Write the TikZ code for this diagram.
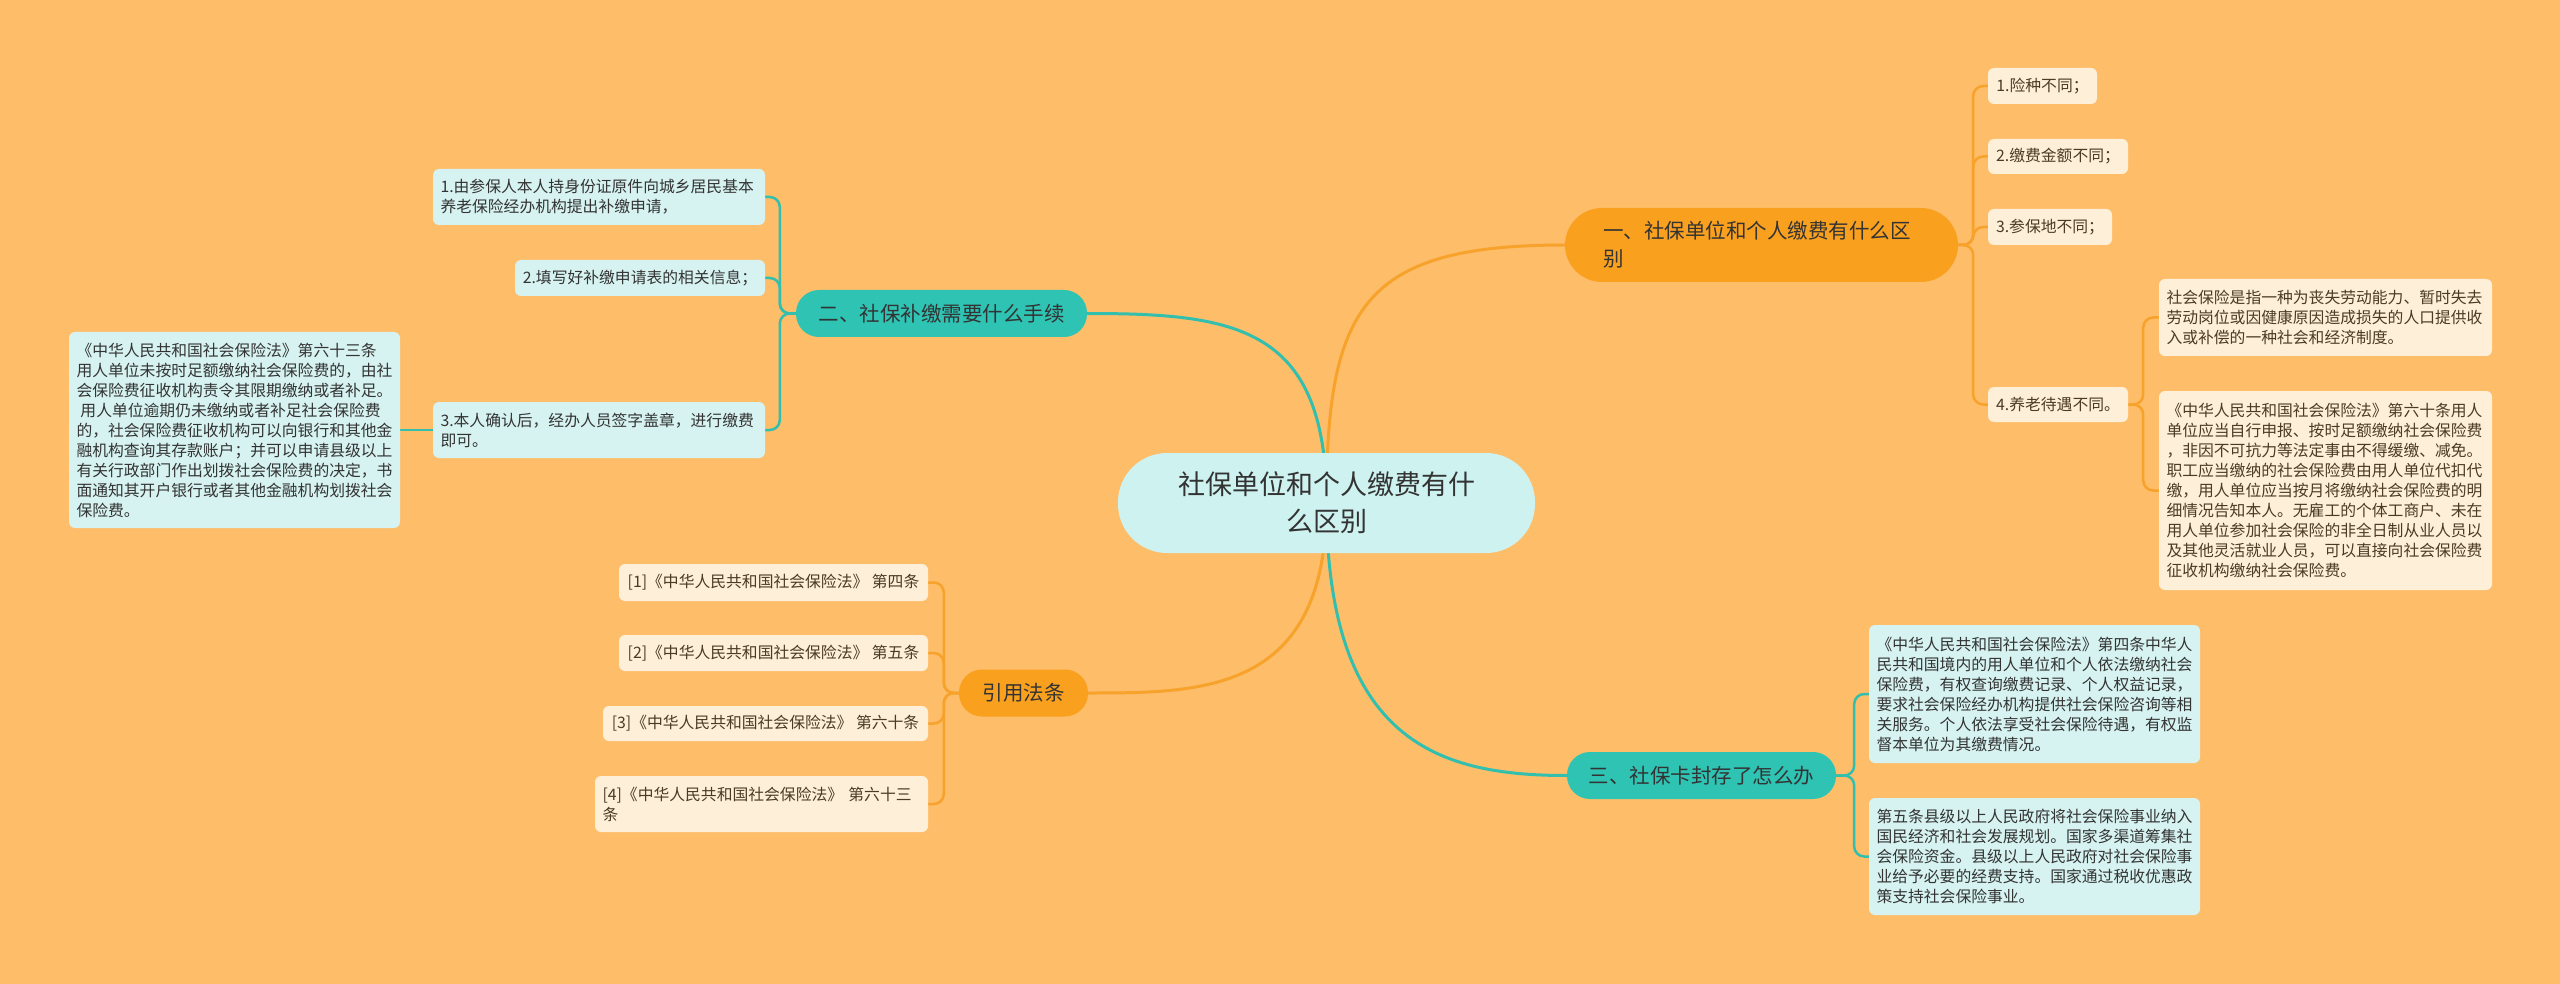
\documentclass[tikz,border=0pt]{standalone}
\usepackage{fontspec}
\newfontfamily\cjk{Noto Sans CJK SC}
\usetikzlibrary{positioning}
\definecolor{bgcol}{HTML}{FEBD69}
\definecolor{rootfill}{HTML}{CDF2EF}
\definecolor{topicorange}{HTML}{F9A11F}
\definecolor{topicteal}{HTML}{2EC3B3}
\definecolor{leafcream}{HTML}{FEEFD9}
\definecolor{leafcyan}{HTML}{D6F3F1}
\definecolor{lineorange}{HTML}{F7A22B}
\definecolor{lineteal}{HTML}{33BFAE}
\definecolor{txtdark}{HTML}{333333}
\definecolor{txtbrown}{HTML}{4B3B25}
\pgfdeclarelayer{bg}
\pgfdeclarelayer{edges}
\pgfsetlayers{bg,edges,main}

\begin{document}
\begin{tikzpicture}[x=1pt, y=-1pt,
    root/.style={fill=rootfill, text=txtdark, rounded corners=49pt, align=center,
      font=\cjk\fontsize{27}{37}\selectfont, text width=360pt, inner xsep=28.5pt,
      inner ysep=0pt, minimum height=100pt},
    topic/.style={rounded corners=23pt, minimum height=47pt, inner sep=0pt,
      text=txtdark, font=\cjk\fontsize{20.5}{28}\selectfont},
    topico/.style={topic, fill=topicorange},
    topict/.style={topic, fill=topicteal},
    leaf/.style={rounded corners=6pt, inner xsep=7.5pt, inner ysep=0pt, align=left,
      font=\cjk\fontsize{15.8}{20}\selectfont},
    leafc/.style={leaf, fill=leafcream, text=txtbrown},
    leafb/.style={leaf, fill=leafcyan, text=txtdark},
    limb/.style={line width=3pt},
    twig/.style={line width=2.5pt, rounded corners=10pt},
    lino/.style={draw=lineorange},
    lint/.style={draw=lineteal}]
  \useasboundingbox (0,0) rectangle (2560,984);
  \begin{pgfonlayer}{bg}
    \fill[bgcol] (0,0) rectangle (2560,984);
  \end{pgfonlayer}

  % centre
  \node[root] (root) at (1326.5,503) {社保单位和个人缴费有什\\么区别};

  % topics
  \node[topico, rounded corners=37pt, minimum height=74pt, text width=317pt,
    inner xsep=38pt, align=left] (t1) at (1761.5,245) {一、社保单位和个人缴费有什么区\\别};
  \node[topict, minimum width=291pt] (t2) at (941.5,313.5) {二、社保补缴需要什么手续};
  \node[topict, minimum width=269pt] (t3) at (1701.5,775.5) {三、社保卡封存了怎么办};
  \node[topico, minimum width=129pt] (t4) at (1023.5,693) {引用法条};

  % topic 1
  \node[leafc, minimum width=109pt, minimum height=36pt] (c1) at (2042.5,86) {1.险种不同；};
  \node[leafc, minimum width=140pt, minimum height=35pt] (c2) at (2058,156.5) {2.缴费金额不同；};
  \node[leafc, minimum width=124pt, minimum height=36pt] (c3) at (2050,227) {3.参保地不同；};
  \node[leafc, minimum width=140pt, minimum height=35pt] (c4) at (2058,404.5) {4.养老待遇不同。};
  \node[leafc, text width=318pt, minimum height=77pt] (c4a) at (2325.5,317.5)
    {社会保险是指一种为丧失劳动能力、暂时失去\\劳动岗位或因健康原因造成损失的人口提供收\\入或补偿的一种社会和经济制度。};
  \node[leafc, text width=318pt, minimum height=199pt] (c4b) at (2325.5,490.5)
    {《中华人民共和国社会保险法》第六十条用人\\单位应当自行申报、按时足额缴纳社会保险费\\，非因不可抗力等法定事由不得缓缴、减免。\\职工应当缴纳的社会保险费由用人单位代扣代\\缴，用人单位应当按月将缴纳社会保险费的明\\细情况告知本人。无雇工的个体工商户、未在\\用人单位参加社会保险的非全日制从业人员以\\及其他灵活就业人员，可以直接向社会保险费\\征收机构缴纳社会保险费。};

  % topic 2
  \node[leafb, text width=317pt, minimum height=56pt] (s1) at (599,197)
    {1.由参保人本人持身份证原件向城乡居民基本\\养老保险经办机构提出补缴申请，};
  \node[leafb, minimum width=250pt, minimum height=36pt] (s2) at (640,278) {2.填写好补缴申请表的相关信息；};
  \node[leafb, text width=317pt, minimum height=56pt] (s3) at (599,430)
    {3.本人确认后，经办人员签字盖章，进行缴费\\即可。};
  \node[leafb, text width=316pt, minimum height=196pt] (s3a) at (234.5,430)
    {《中华人民共和国社会保险法》第六十三条\\用人单位未按时足额缴纳社会保险费的，由社\\会保险费征收机构责令其限期缴纳或者补足。\\\hspace*{0.25em}用人单位逾期仍未缴纳或者补足社会保险费\\的，社会保险费征收机构可以向银行和其他金\\融机构查询其存款账户；并可以申请县级以上\\有关行政部门作出划拨社会保险费的决定，书\\面通知其开户银行或者其他金融机构划拨社会\\保险费。};

  % topic 3
  \node[leafb, text width=316pt, minimum height=138pt] (k1) at (2034.5,694)
    {《中华人民共和国社会保险法》第四条中华人\\民共和国境内的用人单位和个人依法缴纳社会\\保险费，有权查询缴费记录、个人权益记录，\\要求社会保险经办机构提供社会保险咨询等相\\关服务。个人依法享受社会保险待遇，有权监\\督本单位为其缴费情况。};
  \node[leafb, text width=316pt, minimum height=117pt] (k2) at (2034.5,856.5)
    {第五条县级以上人民政府将社会保险事业纳入\\国民经济和社会发展规划。国家多渠道筹集社\\会保险资金。县级以上人民政府对社会保险事\\业给予必要的经费支持。国家通过税收优惠政\\策支持社会保险事业。};

  % topic 4
  \node[leafc, minimum width=309pt, minimum height=37pt] (f1) at (773.5,582.5) {[1]《中华人民共和国社会保险法》 第四条};
  \node[leafc, minimum width=309pt, minimum height=36pt] (f2) at (773.5,653) {[2]《中华人民共和国社会保险法》 第五条};
  \node[leafc, minimum width=325pt, minimum height=35pt] (f3) at (765.5,723.5) {[3]《中华人民共和国社会保险法》 第六十条};
  \node[leafc, text width=318pt, minimum height=56pt] (f4) at (761.5,804) {[4]《中华人民共和国社会保险法》 第六十三\\条};

  % connectors
  \begin{pgfonlayer}{edges}
    \draw[lino, limb] (root.center) .. controls +(0,-197) and +(-201,0) .. (t1.west);
    \draw[lint, limb] (root.center) .. controls +(0,-177) and +(148,0) .. (t2.east);
    \draw[lint, limb] (root.center) .. controls +(0,242) and +(-124,0) .. (t3.west);
    \draw[lino, limb] (root.center) .. controls +(0,190) and +(115,0) .. (t4.east);
    \foreach \c in {c1,c2,c3,c4} \draw[lino, twig] (t1.east) -- ++(15,0) |- (\c.west);
    \foreach \c in {c4a,c4b} \draw[lino, twig] (c4.east) -- ++(15,0) |- (\c.west);
    \foreach \c in {s1,s2,s3} \draw[lint, twig] (t2.west) -- ++(-16,0) |- (\c.east);
    \draw[lint, twig] (s3.west) -- (s3a.east);
    \foreach \c in {k1,k2} \draw[lint, twig] (t3.east) -- ++(18,0) |- (\c.west);
    \foreach \c in {f1,f2,f3,f4} \draw[lino, twig] (t4.west) -- ++(-15,0) |- (\c.east);
  \end{pgfonlayer}
\end{tikzpicture}
\end{document}
